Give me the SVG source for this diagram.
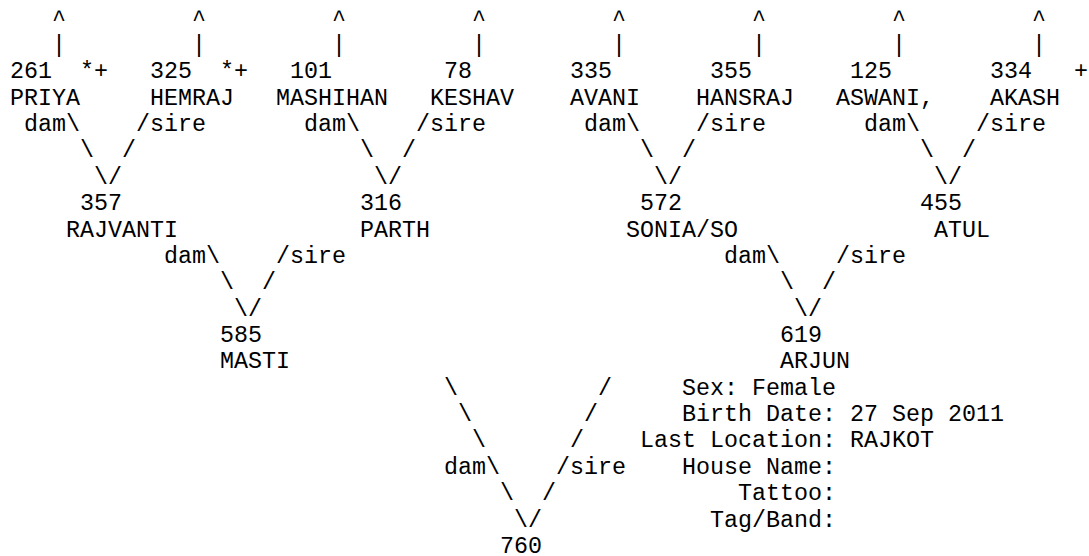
<svg xmlns="http://www.w3.org/2000/svg" width="1089" height="556" viewBox="0 0 1089 556">
<style>
text { font-family: "Liberation Mono", "Courier New", monospace; font-size: 23.33px; fill: #000; white-space: pre; }
</style>
<rect x="0" y="0" width="1089" height="556" fill="#fff"/>
<g id="connectors">
  <text x="52" y="25.56">^</text><text x="192" y="25.56">^</text><text x="332" y="25.56">^</text><text x="472" y="25.56">^</text>
  <text x="612" y="25.56">^</text><text x="752" y="25.56">^</text><text x="892" y="25.56">^</text><text x="1032" y="25.56">^</text>
  <text x="52" y="51.93">|</text><text x="192" y="51.93">|</text><text x="332" y="51.93">|</text><text x="472" y="51.93">|</text>
  <text x="612" y="51.93">|</text><text x="752" y="51.93">|</text><text x="892" y="51.93">|</text><text x="1032" y="51.93">|</text>
  <text x="24" y="131.04">dam\</text><text x="136" y="131.04">/sire</text>
  <text x="304" y="131.04">dam\</text><text x="416" y="131.04">/sire</text>
  <text x="584" y="131.04">dam\</text><text x="696" y="131.04">/sire</text>
  <text x="864" y="131.04">dam\</text><text x="976" y="131.04">/sire</text>
  <text x="80" y="157.41">\</text><text x="122" y="157.41">/</text>
  <text x="360" y="157.41">\</text><text x="402" y="157.41">/</text>
  <text x="640" y="157.41">\</text><text x="682" y="157.41">/</text>
  <text x="920" y="157.41">\</text><text x="962" y="157.41">/</text>
  <text x="94" y="183.78">\/</text><text x="374" y="183.78">\/</text><text x="654" y="183.78">\/</text><text x="934" y="183.78">\/</text>
  <text x="164" y="262.89">dam\</text><text x="276" y="262.89">/sire</text>
  <text x="724" y="262.89">dam\</text><text x="836" y="262.89">/sire</text>
  <text x="220" y="289.26">\</text><text x="262" y="289.26">/</text>
  <text x="780" y="289.26">\</text><text x="822" y="289.26">/</text>
  <text x="234" y="315.63">\/</text><text x="794" y="315.63">\/</text>
  <text x="444" y="394.74">\</text><text x="598" y="394.74">/</text>
  <text x="458" y="421.11">\</text><text x="584" y="421.11">/</text>
  <text x="472" y="447.48">\</text><text x="570" y="447.48">/</text>
  <text x="444" y="473.85">dam\</text><text x="556" y="473.85">/sire</text>
  <text x="500" y="500.22">\</text><text x="542" y="500.22">/</text>
  <text x="514" y="526.59">\/</text>
</g>
<g id="n261"><text x="10" y="78.3">261</text><text x="80" y="78.3">*+</text><text x="10" y="104.67">PRIYA</text></g>
<g id="n325"><text x="150" y="78.3">325</text><text x="220" y="78.3">*+</text><text x="150" y="104.67">HEMRAJ</text></g>
<g id="n101"><text x="290" y="78.3">101</text><text x="276" y="104.67">MASHIHAN</text></g>
<g id="n78"><text x="444" y="78.3">78</text><text x="430" y="104.67">KESHAV</text></g>
<g id="n335"><text x="570" y="78.3">335</text><text x="570" y="104.67">AVANI</text></g>
<g id="n355"><text x="710" y="78.3">355</text><text x="696" y="104.67">HANSRAJ</text></g>
<g id="n125"><text x="850" y="78.3">125</text><text x="836" y="104.67">ASWANI,</text></g>
<g id="n334"><text x="990" y="78.3">334</text><text x="1074" y="78.3">+</text><text x="990" y="104.67">AKASH</text></g>
<g id="n357"><text x="80" y="210.15">357</text><text x="66" y="236.52">RAJVANTI</text></g>
<g id="n316"><text x="360" y="210.15">316</text><text x="360" y="236.52">PARTH</text></g>
<g id="n572"><text x="640" y="210.15">572</text><text x="626" y="236.52">SONIA/SO</text></g>
<g id="n455"><text x="920" y="210.15">455</text><text x="934" y="236.52">ATUL</text></g>
<g id="n585"><text x="220" y="342">585</text><text x="220" y="368.37">MASTI</text></g>
<g id="n619"><text x="780" y="342">619</text><text x="780" y="368.37">ARJUN</text></g>
<g id="n760"><text x="500" y="552.96">760</text></g>
<g id="details">
  <text x="682" y="394.74">Sex: Female</text>
  <text x="682" y="421.11">Birth Date: 27 Sep 2011</text>
  <text x="640" y="447.48">Last Location: RAJKOT</text>
  <text x="682" y="473.85">House Name:</text>
  <text x="738" y="500.22">Tattoo:</text>
  <text x="710" y="526.59">Tag/Band:</text>
</g>
</svg>
